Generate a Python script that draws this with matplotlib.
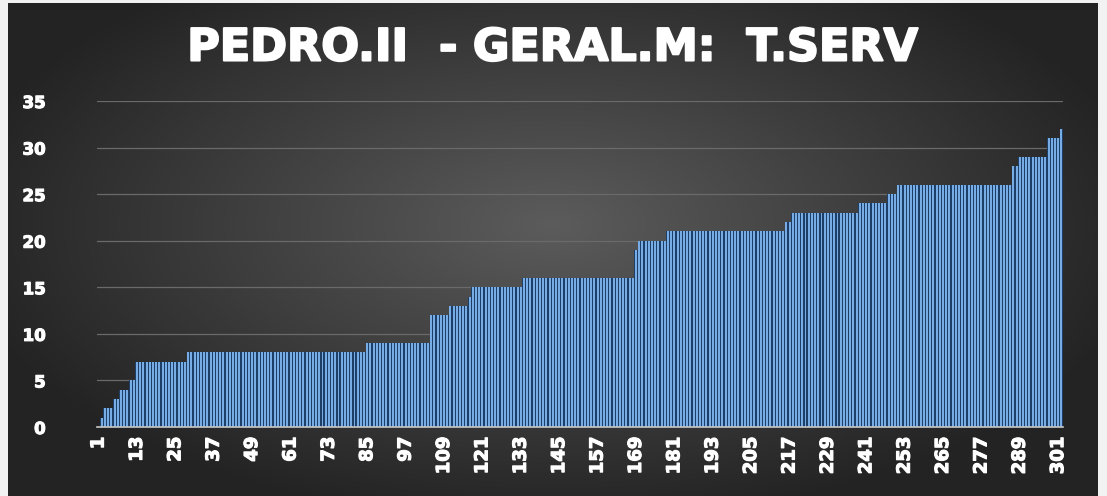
import numpy as np
import matplotlib.pyplot as plt
import matplotlib.patheffects as pe

# service time levels (sorted) and how many people sit on each level
levels = [0, 1, 2, 3, 4, 5, 7, 8, 9, 12, 13, 14, 15, 16, 19, 20, 21, 22, 23, 24, 25, 26, 28, 29, 31, 32]
counts = [1, 1, 3, 2, 3, 2, 16, 56, 20, 6, 6, 1, 16, 35, 1, 9, 37, 2, 21, 9, 3, 36, 2, 9, 4, 1]

values = np.repeat(levels, counts)
ids = np.arange(1, len(values) + 1)
tick_ids = list(range(1, len(values) + 1, 12))
title = "PEDRO.II  - GERAL.M:  T.SERV"

W, H = 1107, 496
fig = plt.figure(figsize=(W / 100, H / 100), dpi=100)
fig.patch.set_facecolor('#f2f2f2')

# dark panel with radial gradient
bg = fig.add_axes([8 / W, 0, 1090 / W, 493 / H])
gx, gy = np.meshgrid(np.linspace(-1, 1, 400), np.linspace(-1, 1, 200))
r = np.sqrt(gx ** 2 + ((gy + 0.1) / 1.1) ** 2)
shade = np.clip(0.36 - 0.2 * r, 0.14, 0.36)
img = np.dstack([shade, shade, shade])
bg.imshow(img, aspect='auto', extent=[0, 1, 0, 1], origin='upper')
bg.axis('off')

ax = fig.add_axes([97 / W, (H - 427) / H, 966 / W, 326 / H])
ax.set_facecolor('none')
# dark blue backing so the gaps between bars look navy, like the original
ax.bar(ids, values, width=1.0, color='#1d3e66', edgecolor='none', zorder=3)
ax.bar(ids, values, width=0.62, color='#78ace4', edgecolor='none', zorder=4)

ax.set_xlim(0.5, len(values) + 0.5)
ax.set_ylim(0, 35)
ax.set_yticks(range(0, 36, 5))
ax.set_xticks(tick_ids)
ax.set_xticklabels([str(t) for t in tick_ids], rotation=90)
ax.grid(axis='y', color='#6a6a6a', linewidth=0.9, zorder=0)
for s in ['top', 'right', 'left']:
    ax.spines[s].set_visible(False)
ax.spines['bottom'].set_color('#c8c8c8')
ax.spines['bottom'].set_linewidth(1.2)
ax.spines['bottom'].set_zorder(5)
ax.tick_params(axis='y', length=0, pad=37, labelsize=12, labelcolor='white')
ax.tick_params(axis='x', length=0, pad=7, labelsize=13, labelcolor='white')
for lab in ax.get_xticklabels() + ax.get_yticklabels():
    lab.set_fontweight('bold')
    lab.set_path_effects([pe.withStroke(linewidth=0.8, foreground='white')])

fig.text(0.5, 1 - 48 / H, title, ha='center', va='center', color='white',
         fontsize=32, fontweight='bold',
         path_effects=[pe.withStroke(linewidth=1.5, foreground='white')])

fig.savefig('out.png', dpi=100)
